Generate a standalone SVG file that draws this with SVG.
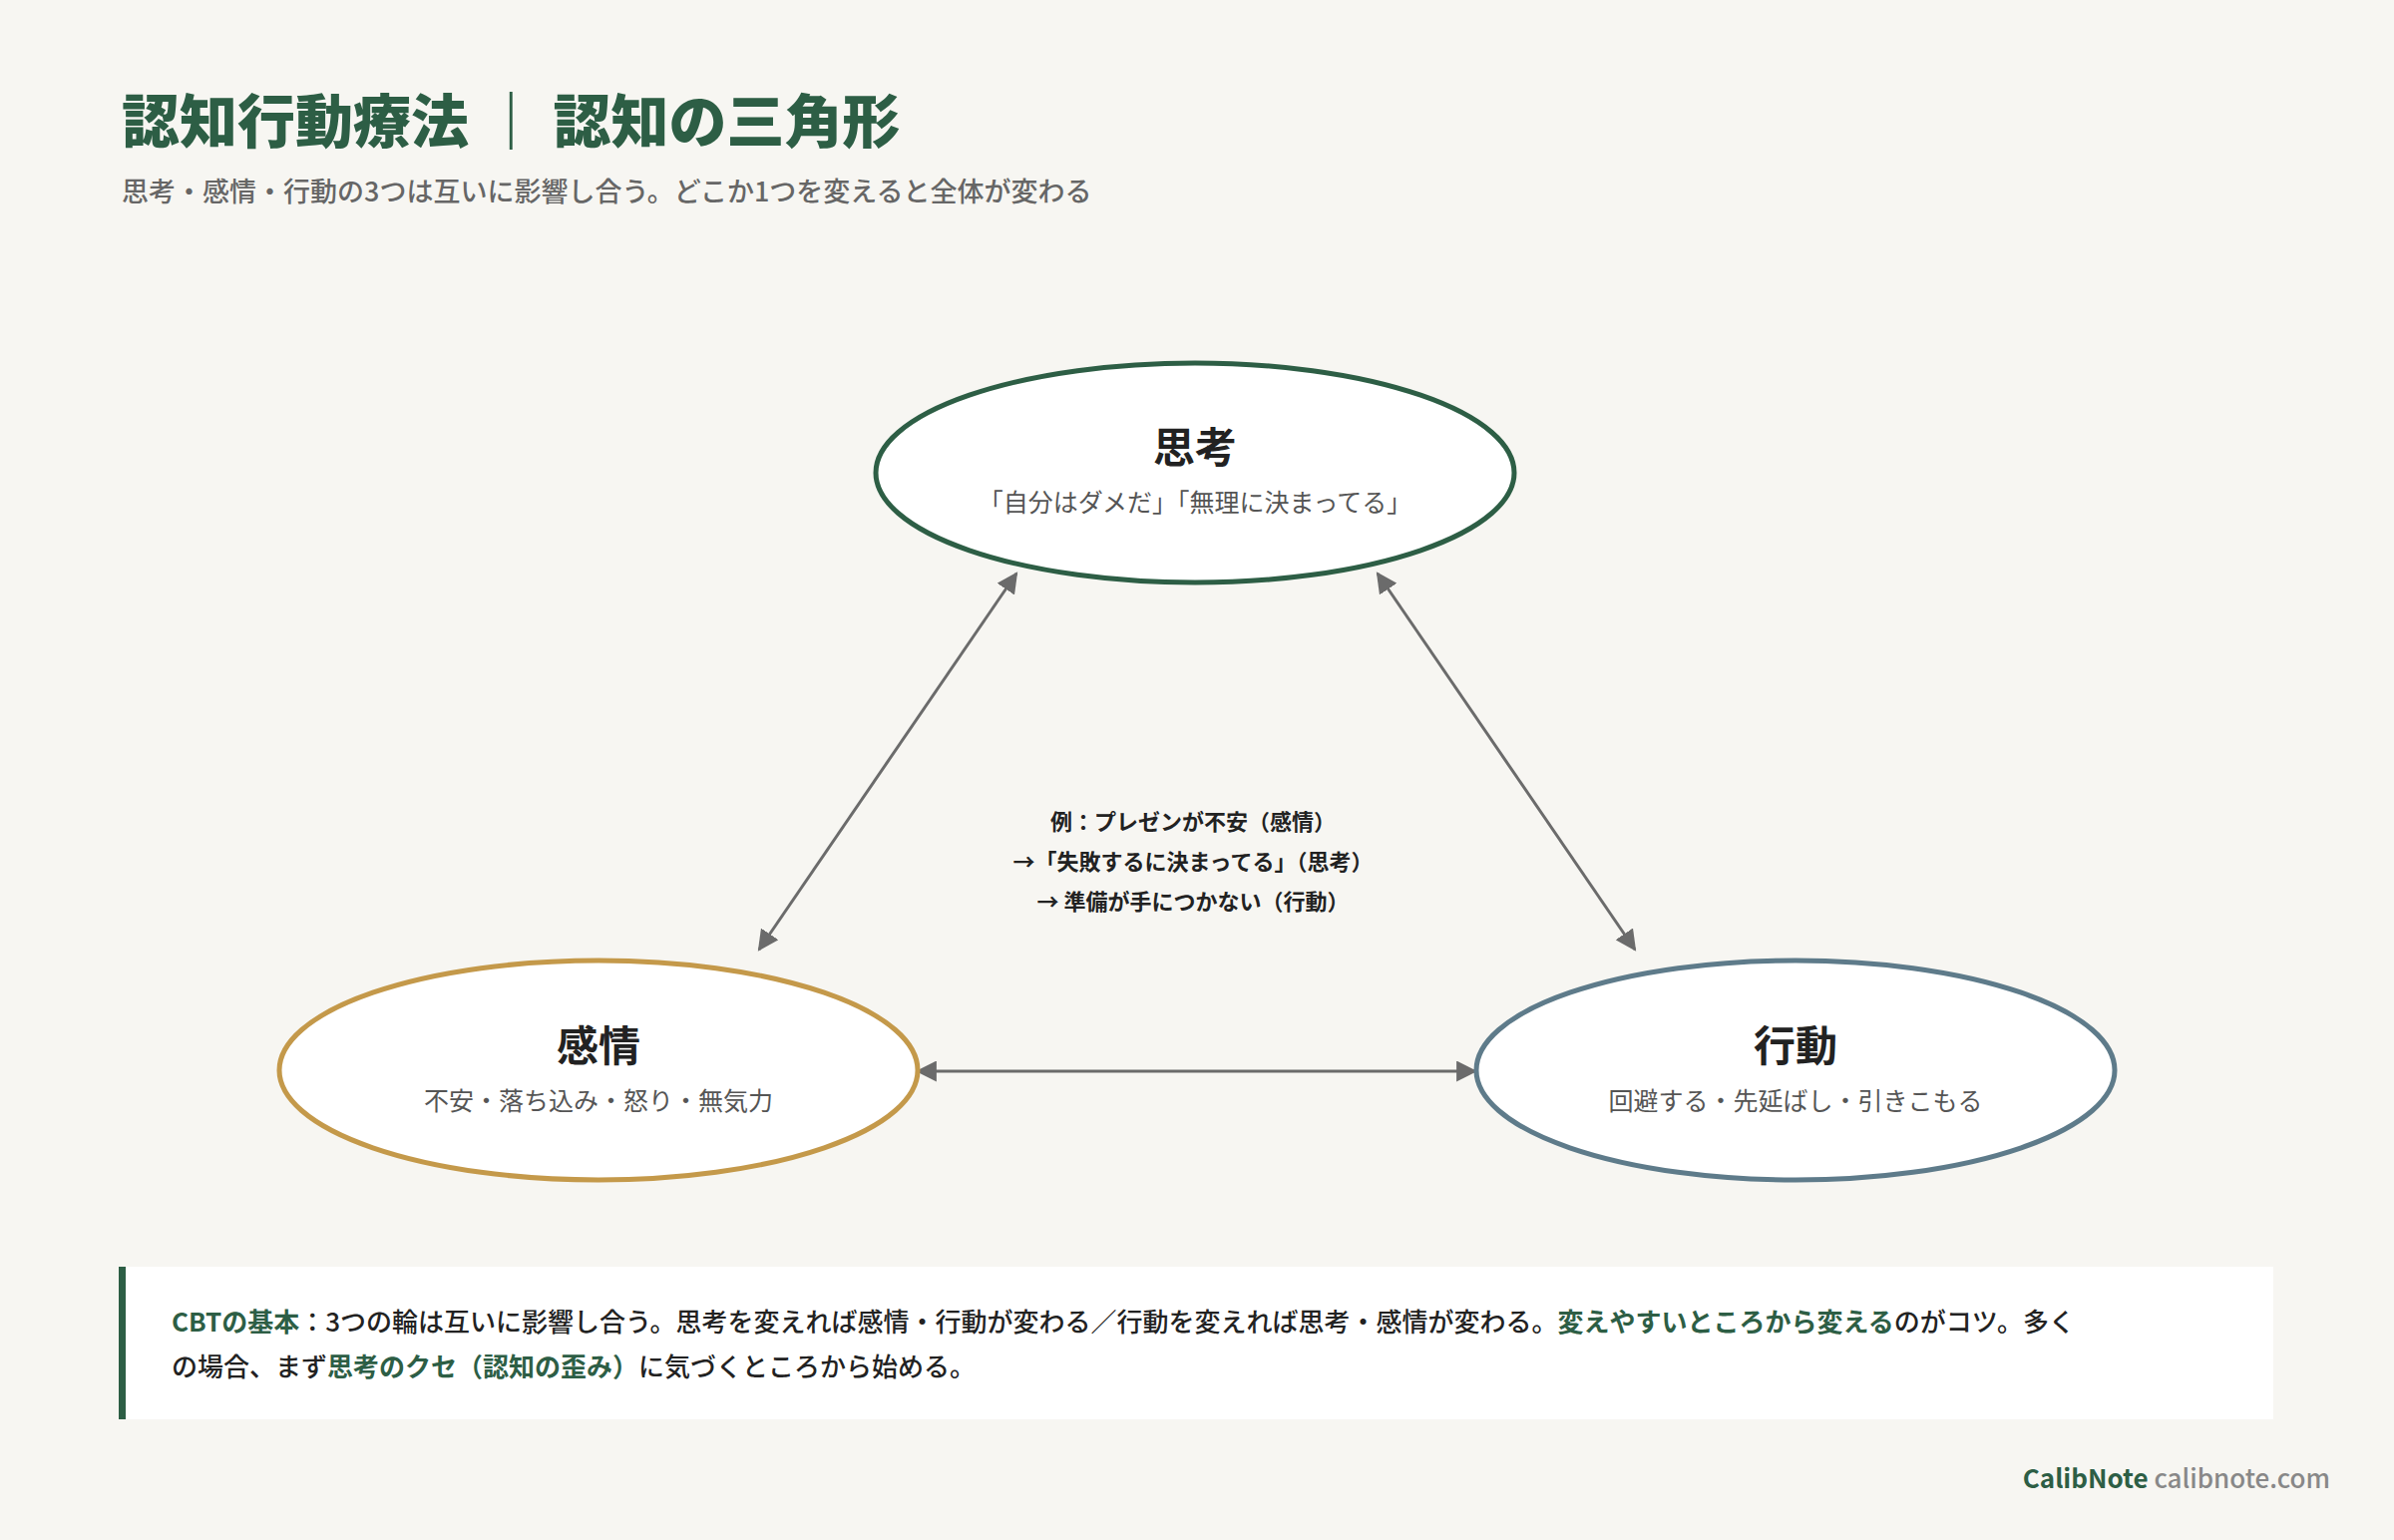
<svg xmlns="http://www.w3.org/2000/svg" width="2400" height="1544" viewBox="0 0 2400 1544">
<style>
text{font-family:"Noto Sans CJK JP","Noto Sans",sans-serif}
.node{fill:#fff;stroke-width:5}
.lbl{font-size:42px;font-weight:700;fill:#222;text-anchor:middle}
.sub{font-size:25px;fill:#555;text-anchor:middle}
.ex{font-size:22px;font-weight:700;fill:#222;text-anchor:middle}
.body{font-size:26px;fill:#222;font-weight:500}
.g{fill:#2d5e45;font-weight:700}
.con{stroke:#6b6b6b;stroke-width:3;fill:none;marker-start:url(#a);marker-end:url(#a)}
</style>
<defs><marker id="a" viewBox="0 0 10 10" refX="9" refY="5" markerWidth="7" markerHeight="7" orient="auto-start-reverse"><path d="M0,0L10,5L0,10z" fill="#6b6b6b"/></marker></defs>
<rect width="2400" height="1544" fill="#f7f6f2"/>
<text x="122" y="143" font-size="58" font-weight="900" fill="#2d5e45">認知行動療法 ｜ 認知の三角形</text>
<text x="122" y="202" font-size="27" font-weight="500" fill="#666">思考・感情・行動の3つは互いに影響し合う。どこか1つを変えると全体が変わる</text>
<g id="connectors">
<line class="con" x1="1019" y1="575" x2="761" y2="952"/>
<line class="con" x1="1381" y1="575" x2="1639" y2="952"/>
<line class="con" x1="920" y1="1074" x2="1479" y2="1074"/>
</g>
<g id="thought"><ellipse class="node" cx="1198" cy="474" rx="320" ry="110" stroke="#2d5e45"/>
<text class="lbl" x="1198" y="464">思考</text><text class="sub" x="1198" y="513">「自分はダメだ」「無理に決まってる」</text></g>
<g id="emotion"><ellipse class="node" cx="600" cy="1073" rx="320" ry="110" stroke="#c4994a"/>
<text class="lbl" x="600" y="1064">感情</text><text class="sub" x="600" y="1113">不安・落ち込み・怒り・無気力</text></g>
<g id="behavior"><ellipse class="node" cx="1800" cy="1073" rx="320" ry="110" stroke="#5e7b8a"/>
<text class="lbl" x="1800" y="1064">行動</text><text class="sub" x="1800" y="1113">回避する・先延ばし・引きこもる</text></g>
<g id="example">
<text class="ex" x="1196" y="832">例：プレゼンが不安（感情）</text>
<text class="ex" x="1196" y="872">→「失敗するに決まってる」（思考）</text>
<text class="ex" x="1196" y="912">→ 準備が手につかない（行動）</text>
</g>
<g id="note">
<rect x="119" y="1270" width="2160" height="153" fill="#fff"/>
<rect x="119" y="1270" width="7" height="153" fill="#2d5e45"/>
<text class="body" x="172" y="1335"><tspan class="g">CBTの基本</tspan>：3つの輪は互いに影響し合う。思考を変えれば感情・行動が変わる／行動を変えれば思考・感情が変わる。<tspan class="g">変えやすいところから変える</tspan>のがコツ。多く</text>
<text class="body" x="172" y="1380">の場合、まず<tspan class="g">思考のクセ（認知の歪み）</tspan>に気づくところから始める。</text>
</g>
<text x="2336" y="1492" font-size="26" text-anchor="end" font-weight="500" fill="#888"><tspan fill="#2d5e45" font-weight="700">CalibNote</tspan> calibnote.com</text>
</svg>
